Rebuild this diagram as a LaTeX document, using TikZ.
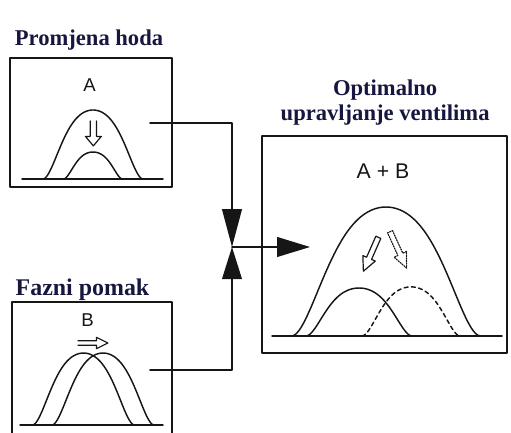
\documentclass[tikz,border=0pt]{standalone}
\usepackage{fontspec}
\setmainfont{Liberation Serif}
\newfontfamily\labelfont{Liberation Sans}
\usetikzlibrary{positioning, arrows.meta}
\definecolor{figink}{HTML}{161616}
\definecolor{figtitle}{HTML}{16163F}

\begin{document}
\begin{tikzpicture}[
  x=1cm, y=1cm,
  line cap=round, line join=round,
  declare function={lift(\t)=(1-(\t)*(\t))*(1-(\t)*(\t)*(\t)*(\t));},
  box/.style   = {draw=figink, line width=1.4pt, inner sep=0pt, anchor=center},
  ttl/.style   = {font=\fontsize{17}{19}\selectfont\bfseries, color=figtitle,
                  anchor=base, inner sep=0pt, align=center},
  lbl/.style   = {font=\labelfont\fontsize{14}{16}\selectfont, color=figink,
                  anchor=base, inner sep=0pt},
  curve/.style = {draw=figink, line width=1.1pt},
  link/.style  = {draw=figink, line width=1.4pt},
  bigtip/.style = {-{Triangle[length=#1, width=0.52cm]}},
  arrowopen/.pic = {\draw[pic actions] (0,0.12) -- (0.62,0.12) -- (0.62,0.3)
                    -- (1,0) -- (0.62,-0.3) -- (0.62,-0.12) -- (0,-0.12);},
  arrowshut/.pic = {\draw[pic actions] (0,0.12) -- (0.62,0.12) -- (0.62,0.3)
                    -- (1,0) -- (0.62,-0.3) -- (0.62,-0.12) -- (0,-0.12) -- cycle;}
]
\clip (0,0) rectangle (13.52,11.43);

% okviri
\node[box, minimum width=4.29cm, minimum height=3.41cm] (a) at (2.408,8.189) {};
\node[box, minimum width=4.23cm, minimum height=3.94cm] (b) at (2.435,1.47) {};
\node[box, minimum width=6.48cm, minimum height=5.74cm] (c) at (10.174,4.961) {};

% naslovi
\node[ttl] (ta) at (2.355,10.239) {Promjena hoda};
\node[ttl, font=\fontsize{18}{20}\selectfont\bfseries] (tb) at (2.183,3.624) {Fazni pomak};
\node[ttl] (tc) at (10.19,8.23) {Optimalno\\upravljanje ventilima};

% oznake u okvirima
\node[lbl] (la) at (2.37,8.996) {A};
\node[lbl] (lb) at (2.315,2.804) {B};
\node[lbl, font=\labelfont\fontsize{16}{18}\selectfont] (lc) at (10.134,6.72) {A + B};

% A: promjena hoda
\draw[curve] (0.582,6.694) -- (4.313,6.694);
\draw[curve] plot[domain=-1:1, samples=61] ({2.461+1.323*\x},{6.694+1.826*lift(\x)});
\draw[curve] plot[domain=-1:1, samples=61] ({2.461+0.78*\x},{6.694+0.714*lift(\x)});
\pic[draw=figink, line width=0.9pt, rotate=-90, xscale=0.66, yscale=0.7] at (2.47,8.23) {arrowopen};

% B: fazni pomak
\draw[curve] (0.529,0.185) -- (4.313,0.185);
\draw[curve] plot[domain=-1:1, samples=61] ({2.209+1.35*\x},{0.185+1.905*lift(\x)});
\draw[curve] plot[domain=-1:1, samples=61] ({2.725+1.35*\x},{0.185+1.905*lift(\x)});
\pic[draw=figink, line width=0.9pt, xscale=0.79, yscale=0.5] at (2.064,2.355) {arrowopen};

% A + B
\draw[curve] (7.197,2.54) -- (13.283,2.54);
\draw[curve] plot[domain=-1:1, samples=81] ({10.213+2.5*\x},{2.54+3.413*lift(\x)});
\draw[curve] plot[domain=-1:1, samples=61] ({9.499+1.402*\x},{2.54+1.27*lift(\x)});
\draw[curve, dash pattern=on 3pt off 2.5pt] plot[domain=-1:1, samples=61] ({10.875+1.30*\x},{2.54+1.30*lift(\x)});
\pic[draw=figink, line width=0.9pt, rotate=246.2, xscale=0.98, yscale=0.6] at (10.010,5.151) {arrowshut};
\pic[draw=figink, line width=0.9pt, densely dotted, rotate=-65.5, xscale=1.06, yscale=0.6] at (10.319,5.299) {arrowshut};

% spojevi
\coordinate (ea) at (3.969,8.176);
\coordinate (eb) at (3.969,1.640);
\coordinate (m)  at (6.138,4.895);
\coordinate (ec) at (8.203,4.895);
\draw[link, bigtip=1.0cm]  (ea) -| (m);
\draw[link, bigtip=0.85cm] (eb) -| (m);
\draw[link, bigtip=0.87cm] (m) -- (ec);

\end{tikzpicture}
\end{document}
